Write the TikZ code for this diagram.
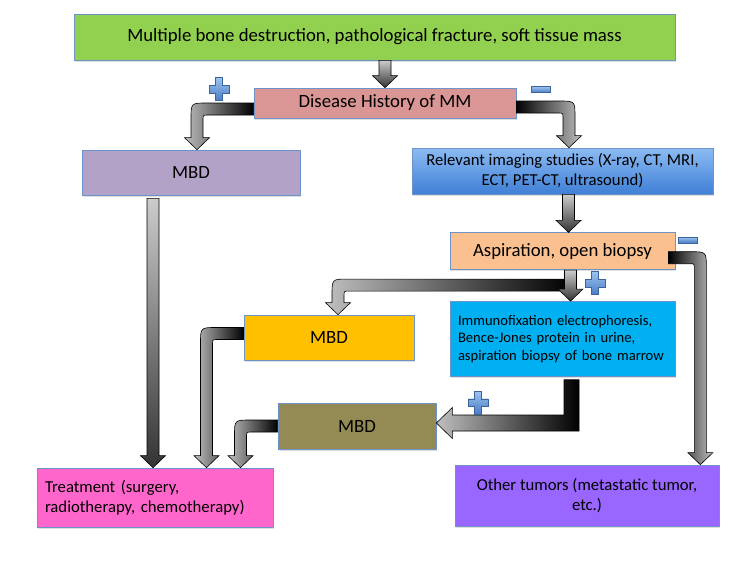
\documentclass[tikz,border=0pt]{standalone}
\usepackage{fontspec}
\setmainfont{Carlito}
\usepackage{xcolor}
\usepackage{tikz}
\usetikzlibrary{calc,positioning,shadows}
\definecolor{boxline}{HTML}{6E93C8}
\definecolor{mmgreen}{HTML}{92D050}
\definecolor{mmrose}{HTML}{D99694}
\definecolor{mmlilac}{HTML}{B3A2C7}
\definecolor{imgtop}{HTML}{8CBBF2}
\definecolor{imgbot}{HTML}{3F7FD6}
\definecolor{biopsyorange}{HTML}{FAC090}
\definecolor{immblue}{HTML}{00B0F0}
\definecolor{mbdgold}{HTML}{FFC000}
\definecolor{mbdolive}{HTML}{948A54}
\definecolor{treatpink}{HTML}{FF66CC}
\definecolor{tumorviolet}{HTML}{9966FF}
\definecolor{signtop}{HTML}{9DC3F0}
\definecolor{signbot}{HTML}{4A7DC4}

% block arrow sizes
\newcommand{\arrsw}{6pt}
\newcommand{\arrhw}{12.5pt}
\newcommand{\arrhl}{12pt}
\newcommand{\arrro}{16pt}
\newcommand{\arrri}{5pt}

% straight block arrow going down: style, start, tip
\newcommand{\vdarrow}[3]{%
  \path[blockarrow,#1] let \p1=(#2), \p2=(#3) in
    ({\x1-\arrsw},\y1) -- ({\x1-\arrsw},{\y2+\arrhl}) -- ({\x1-\arrhw},{\y2+\arrhl})
    -- (\x1,\y2) -- ({\x1+\arrhw},{\y2+\arrhl}) -- ({\x1+\arrsw},{\y2+\arrhl})
    -- ({\x1+\arrsw},\y1) -- cycle;}

% block arrow sideways then down: style, direction (1 right, -1 left), start, tip
\newcommand{\hdarrow}[4]{%
  \path[blockarrow,#1] let \p1=(#3), \p2=(#4), \n1={#2} in
    (\x1,{\y1+\arrsw})
    -- ({\x2+(\n1)*\arrsw-(\n1)*\arrro},{\y1+\arrsw})
    .. controls ({\x2+(\n1)*\arrsw},{\y1+\arrsw}) .. ({\x2+(\n1)*\arrsw},{\y1+\arrsw-\arrro})
    -- ({\x2+(\n1)*\arrsw},{\y2+\arrhl}) -- ({\x2+(\n1)*\arrhw},{\y2+\arrhl})
    -- (\x2,\y2)
    -- ({\x2-(\n1)*\arrhw},{\y2+\arrhl}) -- ({\x2-(\n1)*\arrsw},{\y2+\arrhl})
    -- ({\x2-(\n1)*\arrsw},{\y1-\arrsw-\arrri})
    .. controls ({\x2-(\n1)*\arrsw},{\y1-\arrsw}) .. ({\x2-(\n1)*\arrsw-(\n1)*\arrri},{\y1-\arrsw})
    -- (\x1,{\y1-\arrsw}) -- cycle;}

\tikzset{
  plussign/.pic={\path[draw=signbot!80!black,line width=0.4pt,top color=signtop,bottom color=signbot]
    (-3.5,11.5) -- (3.5,11.5) -- (3.5,3.8) -- (10,3.8) -- (10,-3.8) -- (3.5,-3.8) -- (3.5,-11.5)
    -- (-3.5,-11.5) -- (-3.5,-3.8) -- (-10,-3.8) -- (-10,3.8) -- (-3.5,3.8) -- cycle;},
  minussign/.pic={\path[draw=signbot!80!black,line width=0.4pt,top color=signtop,bottom color=signbot]
    (-9.5,3) rectangle (9.5,-3);}
}

\begin{document}
\begin{tikzpicture}[
  x=1pt, y=1pt,
  box/.style={draw=boxline,line width=0.7pt,align=center,inner sep=0pt,
    drop shadow={shadow xshift=1pt,shadow yshift=-1.5pt,opacity=0.25}},
  bigtext/.style={font=\fontsize{18.75}{22.5}\selectfont},
  midtext/.style={font=\fontsize{16.7}{20}\selectfont},
  smalltext/.style={font=\fontsize{14.6}{17.5}\selectfont},
  blockarrow/.style={draw=black,line width=0.6pt},
  gdown/.style={top color=black!20,bottom color=black!80},
  gleft/.style={left color=black!25,right color=black},
  gright/.style={left color=black,right color=black!25}
]
\useasboundingbox (0,0) rectangle (750,-563);

\node[box,bigtext,fill=mmgreen,minimum width=601pt,minimum height=46pt] (onset) at (374.5,-37)
  {Multiple bone destruction, pathological fracture, soft tissue mass};
\node[box,bigtext,fill=mmrose,minimum width=262pt,minimum height=30pt] (history) at (385,-103)
  {Disease History of MM};
\node[box,bigtext,fill=mmlilac,minimum width=218pt,minimum height=45pt] (mbdhist) at (191,-172.5) {MBD};
\node[box,midtext,top color=imgtop,bottom color=imgbot,minimum width=301pt,minimum height=46pt] (imaging) at (562.5,-171)
  {Relevant imaging studies (X-ray, CT, MRI,\\ECT, PET-CT, ultrasound)};
\node[box,bigtext,fill=biopsyorange,minimum width=225pt,minimum height=37pt,below=38pt of imaging] (biopsy)
  {Aspiration, open biopsy};
\node[box,smalltext,fill=immblue,align=left,text width=209pt,inner xsep=8pt,minimum height=75pt,below=31pt of biopsy] (immuno)
  {Immunofixation electrophoresis,\\Bence-Jones protein in urine,\\aspiration biopsy of bone marrow};
\node[box,bigtext,fill=mbdgold,minimum width=170pt,minimum height=45pt] (mbdbiopsy) at (329,-337.5) {MBD};
\node[box,bigtext,fill=mbdolive,minimum width=158pt,minimum height=46pt] (mbdimmuno) at (357,-426) {MBD};
\node[box,midtext,fill=treatpink,align=left,text width=220pt,inner xsep=8pt,minimum height=59pt] (treatment) at (155,-497.5)
  {Treatment (surgery,\\radiotherapy, chemotherapy)};
\node[box,midtext,fill=tumorviolet,minimum width=264pt,minimum height=61pt] (tumors) at (587,-495.5)
  {Other tumors (metastatic tumor,\\etc.)};

% arrows
\vdarrow{gdown}{onset.south -| history.north}{history.north};
\hdarrow{gleft}{-1}{$(history.west)+(0,-6)$}{$(mbdhist.north)+(6,0)$};
\hdarrow{gright}{1}{$(history.east)+(0,-4)$}{$(imaging.north)+(6.5,0)$};
\vdarrow{gdown}{$(imaging.south)+(6,0)$}{$(biopsy.north)+(6,0)$};
\hdarrow{gleft}{-1}{$(biopsy.south)+(8,-15)$}{$(mbdbiopsy.north)+(9,0)$};
\vdarrow{gdown}{$(biopsy.south)+(8,0)$}{$(immuno.north)+(8,0)$};
\hdarrow{gright}{1}{$(biopsy.east)+(-7,-6.5)$}{$(tumors.north east)+(-19,0)$};
\vdarrow{gdown}{$(mbdhist.south)+(-38,-3)$}{treatment.north};
\hdarrow{gleft}{-1}{$(mbdbiopsy.west)+(0,4)$}{$(treatment.north)+(51.5,0)$};
\hdarrow{gleft}{-1}{mbdimmuno.west}{$(treatment.north)+(85.5,0)$};
\path[blockarrow,gleft] let \p1=($(immuno.south)+(9,-3)$), \p2=($(mbdimmuno.east)+(0,3)$) in
  ({\x1-7.5pt},\y1) -- ({\x1-7.5pt},{\y2+8pt}) -- ({\x2+16pt},{\y2+8pt}) -- ({\x2+16pt},{\y2+15.5pt})
  -- (\x2,\y2) -- ({\x2+16pt},{\y2-15.5pt}) -- ({\x2+16pt},{\y2-8pt}) -- ({\x1+7.5pt},{\y2-8pt})
  -- ({\x1+7.5pt},\y1) -- cycle;

% signs
\pic at (219,-89) {plussign};
\pic at (540.5,-89.5) {minussign};
\pic at (688,-240) {minussign};
\pic at (595,-283) {plussign};
\pic at (478,-402.5) {plussign};
\end{tikzpicture}
\end{document}
